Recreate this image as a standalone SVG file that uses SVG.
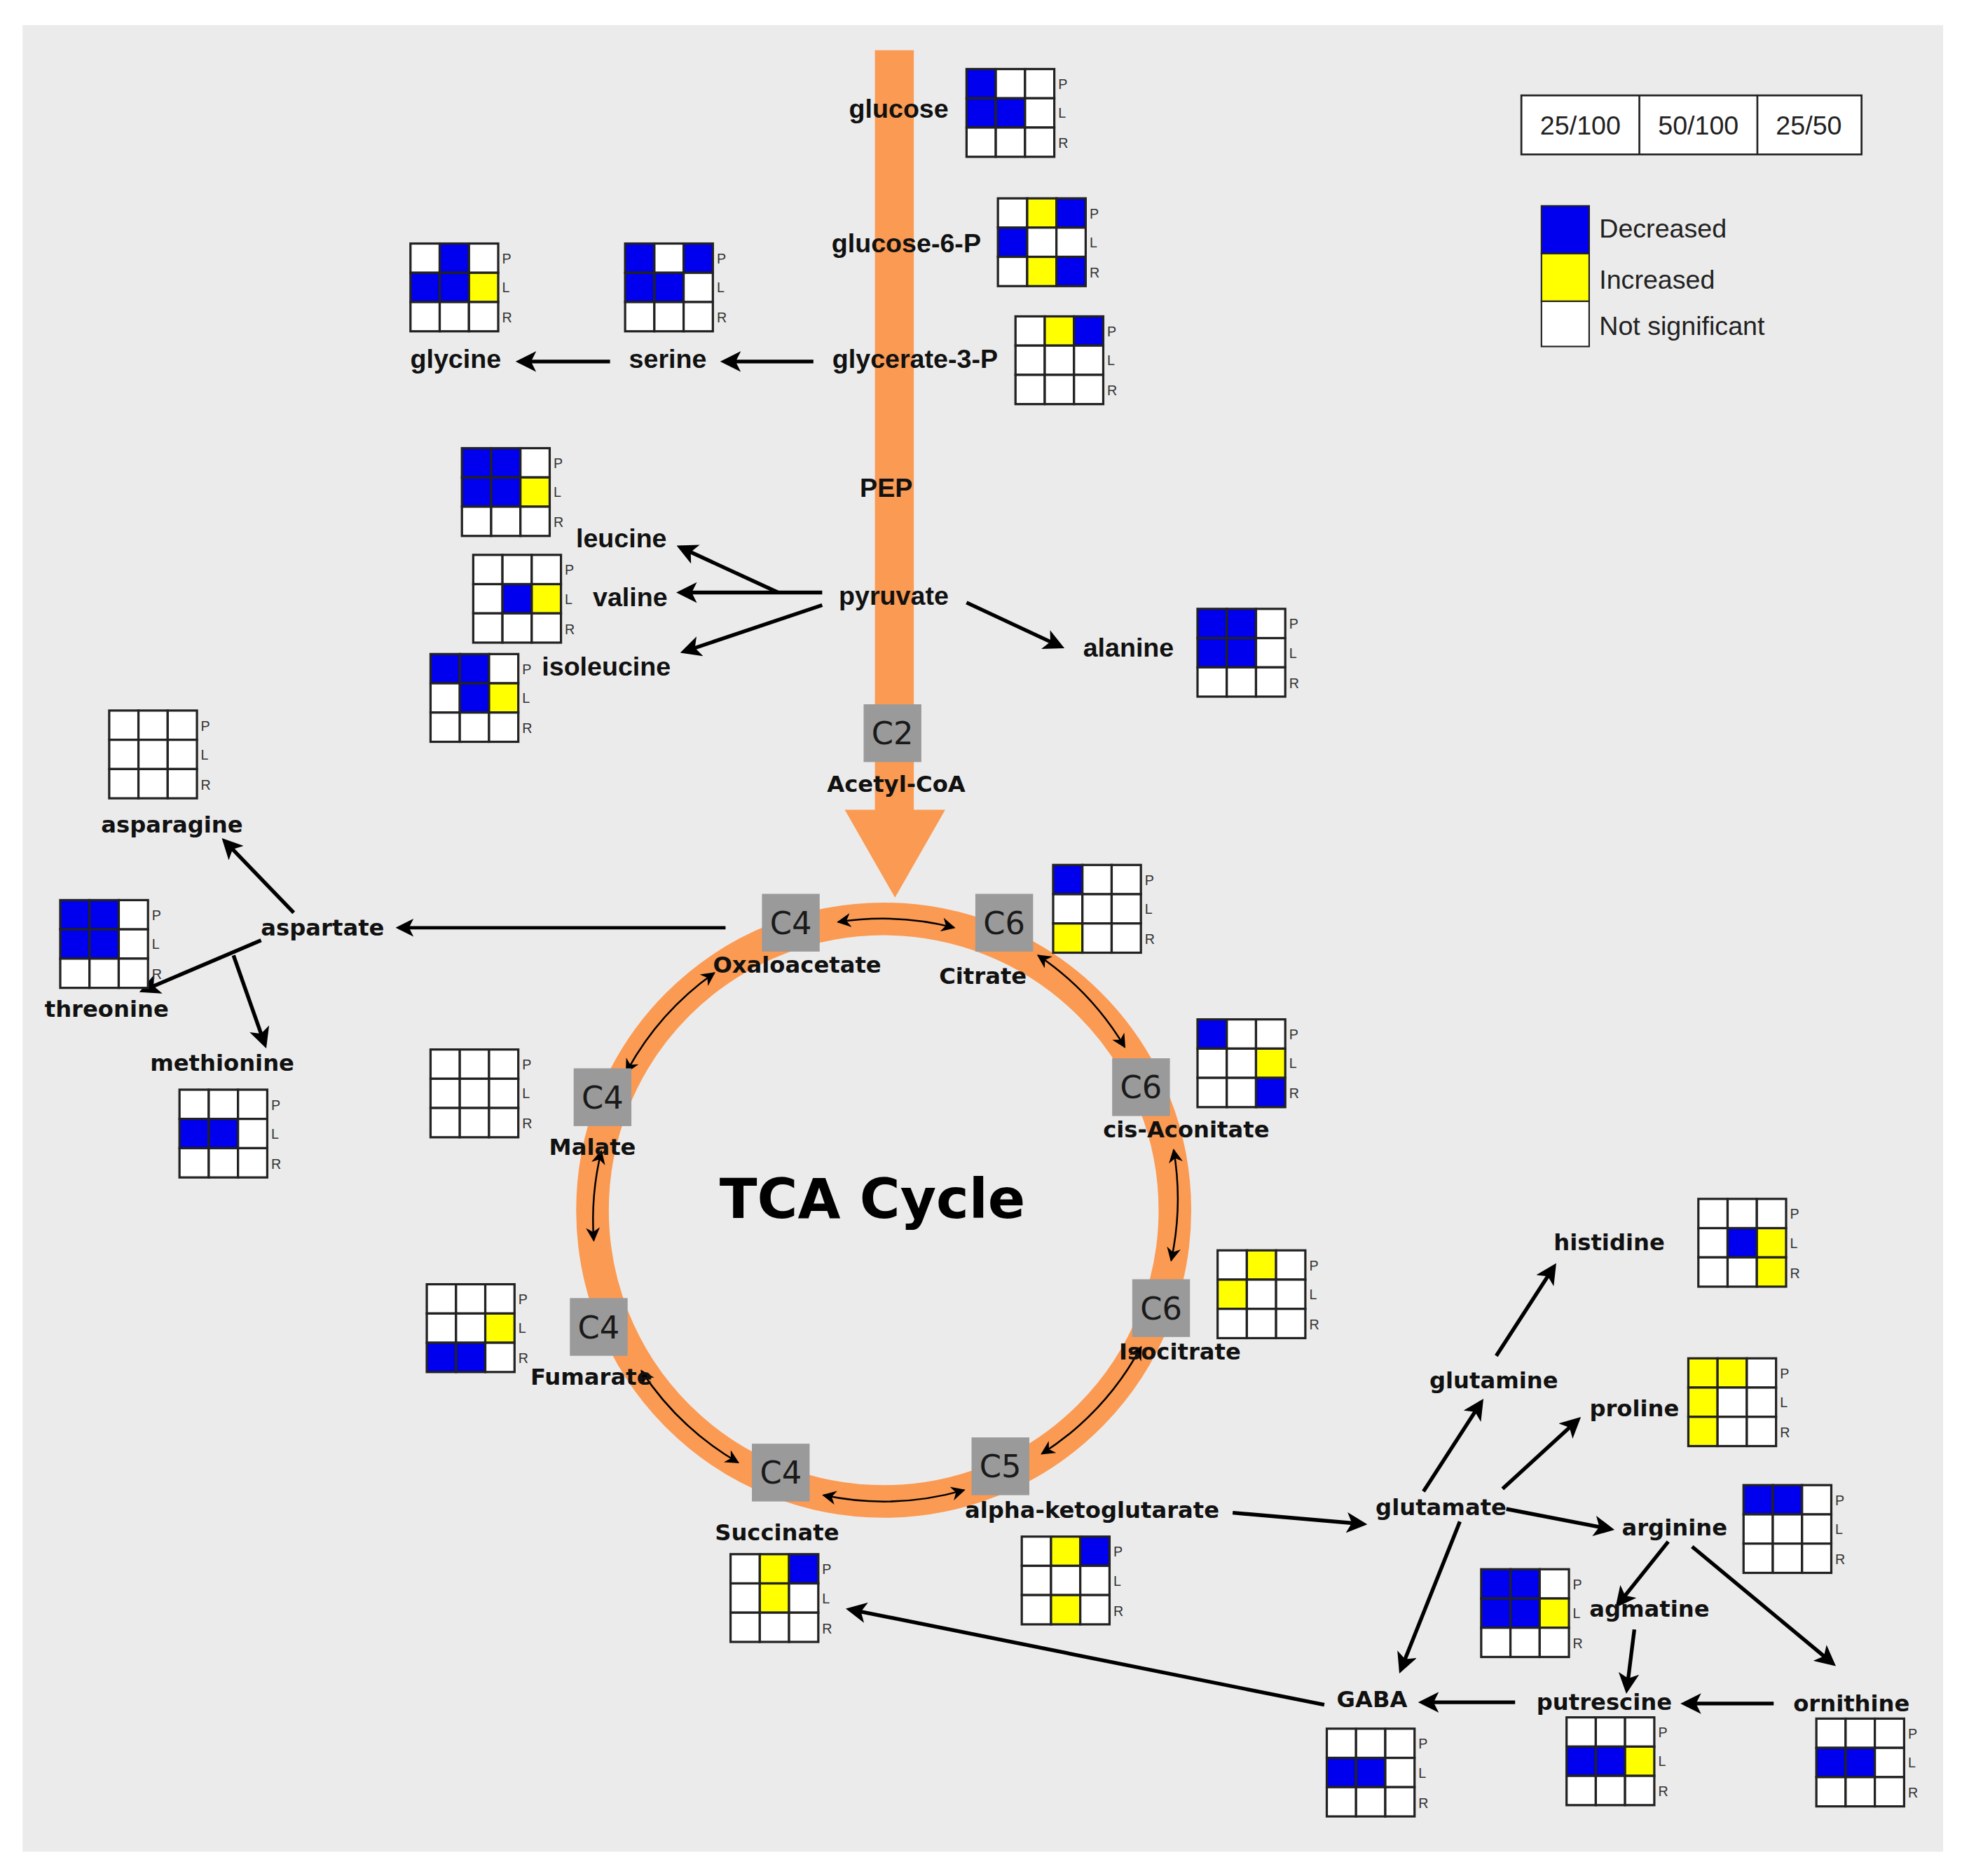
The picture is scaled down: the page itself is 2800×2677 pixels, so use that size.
<svg xmlns="http://www.w3.org/2000/svg" width="2800" height="2677" viewBox="0 0 2800 2677">
<defs>
<style>
.b{fill:#0000ee}.y{fill:#ffff00}.w{fill:#ffffff}
.g rect{stroke:#222;stroke-width:1.8}
.plr{font-family:"Liberation Sans",Arial,sans-serif;font-size:11px;fill:#333}
.lb{font-family:"Liberation Sans",Arial,sans-serif;font-weight:bold;font-size:21px;fill:#111;text-anchor:middle}
.ld{font-family:"DejaVu Sans",sans-serif;font-weight:bold;font-size:18px;fill:#111;text-anchor:middle}
.box rect{fill:#9a9a9a}
.box text{font-family:"DejaVu Sans",sans-serif;font-size:25px;fill:#1a1a1a;text-anchor:middle}
.c line,.c path.t{stroke:#000;stroke-width:3;fill:none;marker-end:url(#ah)}
.c path.s{stroke:#000;stroke-width:1.4;fill:none;marker-start:url(#sh);marker-end:url(#sh)}
.leg{font-family:"Liberation Sans",Arial,sans-serif;font-size:21px;fill:#222}
</style>
<marker id="ah" viewBox="0 0 10 10" refX="8" refY="5" markerWidth="5.5" markerHeight="5.5" orient="auto" markerUnits="strokeWidth"><path d="M0,0 L10,5 L0,10 L2.5,5 z" fill="#000"/></marker>
<marker id="sh" viewBox="0 0 10 10" refX="9" refY="5" markerWidth="8" markerHeight="8" orient="auto-start-reverse" markerUnits="strokeWidth"><path d="M0,0 L10,5 L0,10 L3,5 z" fill="#000"/></marker>
</defs>
<rect width="2800" height="2677" fill="#ffffff"/>
<g transform="scale(1.7914)">
<rect x="18" y="20" width="1530" height="1455" fill="#ebebeb"/>
<g id="glycolysis-flux">
<rect x="697" y="40" width="31" height="608" fill="#fb9a52"/>
<path d="M673,645 L753,645 L713,715 z" fill="#fb9a52"/>
</g>
<g id="tca-ring"><circle cx="704" cy="964" r="232" fill="none" stroke="#fb9a52" stroke-width="26"/>
<text x="695" y="970" style="font-family:'DejaVu Sans',sans-serif;font-weight:bold;font-size:44px;fill:#000;text-anchor:middle">TCA Cycle</text></g>

<g id="connectors" class="c">
<line x1="648" y1="288" x2="577" y2="288"/>
<line x1="486" y1="288" x2="414" y2="288"/>
<path class="t" d="M620,472 L542,436"/>
<line x1="655" y1="472" x2="542" y2="472"/>
<line x1="655" y1="482" x2="545" y2="519"/>
<line x1="770" y1="480" x2="845" y2="515"/>
<line x1="578" y1="739" x2="318" y2="739" style="stroke-width:2.6"/>
<line x1="234" y1="727" x2="179" y2="670"/>
<line x1="208" y1="749" x2="114" y2="789"/>
<line x1="186" y1="761" x2="211" y2="832"/>
<line x1="982" y1="1205" x2="1086" y2="1214"/>
<line x1="1134" y1="1188" x2="1180" y2="1117"/>
<line x1="1197" y1="1186" x2="1257" y2="1131"/>
<line x1="1200" y1="1202" x2="1283" y2="1218"/>
<line x1="1163" y1="1212" x2="1116" y2="1330"/>
<line x1="1192" y1="1080" x2="1238" y2="1009"/>
<line x1="1329" y1="1228" x2="1289" y2="1278"/>
<line x1="1348" y1="1232" x2="1460" y2="1325"/>
<line x1="1302" y1="1298" x2="1296" y2="1346"/>
<line x1="1413" y1="1357" x2="1342" y2="1357"/>
<line x1="1207" y1="1356" x2="1133" y2="1356"/>
<line x1="1055" y1="1358" x2="677" y2="1282"/>
<path class="s" d="M667.7,734.5 A232,232 0 0 1 760.1,738.9"/>
<path class="s" d="M827,761 A232,232 0 0 1 896,834"/>
<path class="s" d="M935,916 A232,232 0 0 1 933,1004"/>
<path class="s" d="M909,1073 A232,232 0 0 1 830,1158"/>
<path class="s" d="M768,1187 A232,232 0 0 1 656,1191"/>
<path class="s" d="M588,1165 A232,232 0 0 1 511,1092"/>
<path class="s" d="M473,988 A232,232 0 0 1 479,917"/>
<path class="s" d="M499,854 A232,232 0 0 1 569,775"/>
</g>

<g id="c2" class="box"><rect x="688" y="561" width="46" height="46"/><text x="711" y="593">C2</text></g>
<g id="c4-oxaloacetate" class="box"><rect x="607" y="712" width="46" height="46"/><text x="630" y="744">C4</text></g>
<g id="c6-citrate" class="box"><rect x="777" y="712" width="46" height="46"/><text x="800" y="744">C6</text></g>
<g id="c6-cisaconitate" class="box"><rect x="886" y="843" width="46" height="46"/><text x="909" y="875">C6</text></g>
<g id="c6-isocitrate" class="box"><rect x="902" y="1019" width="46" height="46"/><text x="925" y="1051">C6</text></g>
<g id="c5-akg" class="box"><rect x="774" y="1145" width="46" height="46"/><text x="797" y="1177">C5</text></g>
<g id="c4-succinate" class="box"><rect x="599" y="1150" width="46" height="46"/><text x="622" y="1182">C4</text></g>
<g id="c4-fumarate" class="box"><rect x="454" y="1034" width="46" height="46"/><text x="477" y="1066">C4</text></g>
<g id="c4-malate" class="box"><rect x="457" y="851" width="46" height="46"/><text x="480" y="883">C4</text></g>

<g id="labels">
<text class="lb" x="716" y="94">glucose</text>
<text class="lb" x="722" y="201">glucose-6-P</text>
<text class="lb" x="729" y="293">glycerate-3-P</text>
<text class="lb" x="363" y="293">glycine</text>
<text class="lb" x="532" y="293">serine</text>
<text class="lb" x="706" y="396">PEP</text>
<text class="lb" x="495" y="436">leucine</text>
<text class="lb" x="502" y="483">valine</text>
<text class="lb" x="712" y="482">pyruvate</text>
<text class="lb" x="483" y="538">isoleucine</text>
<text class="lb" x="899" y="523">alanine</text>
<text class="ld" x="714" y="631">Acetyl-CoA</text>
<text class="ld" x="635" y="775">Oxaloacetate</text>
<text class="ld" x="783" y="784">Citrate</text>
<text class="ld" x="945" y="906">cis-Aconitate</text>
<text class="ld" x="940" y="1083">Isocitrate</text>
<text class="ld" x="870" y="1209">alpha-ketoglutarate</text>
<text class="ld" x="619" y="1227">Succinate</text>
<text class="ld" x="471" y="1103">Fumarate</text>
<text class="ld" x="472" y="920">Malate</text>
<text class="ld" x="137" y="663">asparagine</text>
<text class="ld" x="257" y="745">aspartate</text>
<text class="ld" x="85" y="810">threonine</text>
<text class="ld" x="177" y="853">methionine</text>
<text class="ld" x="1282" y="996">histidine</text>
<text class="ld" x="1190" y="1106">glutamine</text>
<text class="ld" x="1302" y="1128">proline</text>
<text class="ld" x="1148" y="1207">glutamate</text>
<text class="ld" x="1334" y="1223">arginine</text>
<text class="ld" x="1314" y="1288">agmatine</text>
<text class="ld" x="1093" y="1360">GABA</text>
<text class="ld" x="1278" y="1362">putrescine</text>
<text class="ld" x="1475" y="1363">ornithine</text>
</g>

<g id="legend">
<rect x="1212" y="76" width="271" height="47" fill="#fff" stroke="#222" stroke-width="1.5"/>
<line x1="1306" y1="76" x2="1306" y2="123" stroke="#222" stroke-width="1.5"/>
<line x1="1400" y1="76" x2="1400" y2="123" stroke="#222" stroke-width="1.5"/>
<text class="leg" x="1259" y="107" text-anchor="middle">25/100</text>
<text class="leg" x="1353" y="107" text-anchor="middle">50/100</text>
<text class="leg" x="1441" y="107" text-anchor="middle">25/50</text>
<rect x="1228" y="164" width="38" height="38" class="b" stroke="#222" stroke-width="1.2"/>
<rect x="1228" y="202" width="38" height="38" class="y" stroke="#222" stroke-width="1.2"/>
<rect x="1228" y="240" width="38" height="36" class="w" stroke="#222" stroke-width="1.2"/>
<text class="leg" x="1274" y="189">Decreased</text>
<text class="leg" x="1274" y="230">Increased</text>
<text class="leg" x="1274" y="267">Not significant</text>
</g>

<!-- grids -->
<g id="grid-glucose" class="g" transform="translate(770,55)"><rect x="0" y="0" width="23.3" height="23.3" class="b"/><rect x="23.3" y="0" width="23.3" height="23.3" class="w"/><rect x="46.6" y="0" width="23.3" height="23.3" class="w"/><rect x="0" y="23.3" width="23.3" height="23.3" class="b"/><rect x="23.3" y="23.3" width="23.3" height="23.3" class="b"/><rect x="46.6" y="23.3" width="23.3" height="23.3" class="w"/><rect x="0" y="46.6" width="23.3" height="23.3" class="w"/><rect x="23.3" y="46.6" width="23.3" height="23.3" class="w"/><rect x="46.6" y="46.6" width="23.3" height="23.3" class="w"/><text class="plr" x="73" y="16">P</text><text class="plr" x="73" y="39">L</text><text class="plr" x="73" y="63">R</text></g>
<g id="grid-glucose6p" class="g" transform="translate(795,158)"><rect x="0" y="0" width="23.3" height="23.3" class="w"/><rect x="23.3" y="0" width="23.3" height="23.3" class="y"/><rect x="46.6" y="0" width="23.3" height="23.3" class="b"/><rect x="0" y="23.3" width="23.3" height="23.3" class="b"/><rect x="23.3" y="23.3" width="23.3" height="23.3" class="w"/><rect x="46.6" y="23.3" width="23.3" height="23.3" class="w"/><rect x="0" y="46.6" width="23.3" height="23.3" class="w"/><rect x="23.3" y="46.6" width="23.3" height="23.3" class="y"/><rect x="46.6" y="46.6" width="23.3" height="23.3" class="b"/><text class="plr" x="73" y="16">P</text><text class="plr" x="73" y="39">L</text><text class="plr" x="73" y="63">R</text></g>
<g id="grid-glycerate3p" class="g" transform="translate(809,252)"><rect x="0" y="0" width="23.3" height="23.3" class="w"/><rect x="23.3" y="0" width="23.3" height="23.3" class="y"/><rect x="46.6" y="0" width="23.3" height="23.3" class="b"/><rect x="0" y="23.3" width="23.3" height="23.3" class="w"/><rect x="23.3" y="23.3" width="23.3" height="23.3" class="w"/><rect x="46.6" y="23.3" width="23.3" height="23.3" class="w"/><rect x="0" y="46.6" width="23.3" height="23.3" class="w"/><rect x="23.3" y="46.6" width="23.3" height="23.3" class="w"/><rect x="46.6" y="46.6" width="23.3" height="23.3" class="w"/><text class="plr" x="73" y="16">P</text><text class="plr" x="73" y="39">L</text><text class="plr" x="73" y="63">R</text></g>
<g id="grid-glycine" class="g" transform="translate(327,194)"><rect x="0" y="0" width="23.3" height="23.3" class="w"/><rect x="23.3" y="0" width="23.3" height="23.3" class="b"/><rect x="46.6" y="0" width="23.3" height="23.3" class="w"/><rect x="0" y="23.3" width="23.3" height="23.3" class="b"/><rect x="23.3" y="23.3" width="23.3" height="23.3" class="b"/><rect x="46.6" y="23.3" width="23.3" height="23.3" class="y"/><rect x="0" y="46.6" width="23.3" height="23.3" class="w"/><rect x="23.3" y="46.6" width="23.3" height="23.3" class="w"/><rect x="46.6" y="46.6" width="23.3" height="23.3" class="w"/><text class="plr" x="73" y="16">P</text><text class="plr" x="73" y="39">L</text><text class="plr" x="73" y="63">R</text></g>
<g id="grid-serine" class="g" transform="translate(498,194)"><rect x="0" y="0" width="23.3" height="23.3" class="b"/><rect x="23.3" y="0" width="23.3" height="23.3" class="w"/><rect x="46.6" y="0" width="23.3" height="23.3" class="b"/><rect x="0" y="23.3" width="23.3" height="23.3" class="b"/><rect x="23.3" y="23.3" width="23.3" height="23.3" class="b"/><rect x="46.6" y="23.3" width="23.3" height="23.3" class="w"/><rect x="0" y="46.6" width="23.3" height="23.3" class="w"/><rect x="23.3" y="46.6" width="23.3" height="23.3" class="w"/><rect x="46.6" y="46.6" width="23.3" height="23.3" class="w"/><text class="plr" x="73" y="16">P</text><text class="plr" x="73" y="39">L</text><text class="plr" x="73" y="63">R</text></g>
<g id="grid-leucine" class="g" transform="translate(368,357)"><rect x="0" y="0" width="23.3" height="23.3" class="b"/><rect x="23.3" y="0" width="23.3" height="23.3" class="b"/><rect x="46.6" y="0" width="23.3" height="23.3" class="w"/><rect x="0" y="23.3" width="23.3" height="23.3" class="b"/><rect x="23.3" y="23.3" width="23.3" height="23.3" class="b"/><rect x="46.6" y="23.3" width="23.3" height="23.3" class="y"/><rect x="0" y="46.6" width="23.3" height="23.3" class="w"/><rect x="23.3" y="46.6" width="23.3" height="23.3" class="w"/><rect x="46.6" y="46.6" width="23.3" height="23.3" class="w"/><text class="plr" x="73" y="16">P</text><text class="plr" x="73" y="39">L</text><text class="plr" x="73" y="63">R</text></g>
<g id="grid-valine" class="g" transform="translate(377,442)"><rect x="0" y="0" width="23.3" height="23.3" class="w"/><rect x="23.3" y="0" width="23.3" height="23.3" class="w"/><rect x="46.6" y="0" width="23.3" height="23.3" class="w"/><rect x="0" y="23.3" width="23.3" height="23.3" class="w"/><rect x="23.3" y="23.3" width="23.3" height="23.3" class="b"/><rect x="46.6" y="23.3" width="23.3" height="23.3" class="y"/><rect x="0" y="46.6" width="23.3" height="23.3" class="w"/><rect x="23.3" y="46.6" width="23.3" height="23.3" class="w"/><rect x="46.6" y="46.6" width="23.3" height="23.3" class="w"/><text class="plr" x="73" y="16">P</text><text class="plr" x="73" y="39">L</text><text class="plr" x="73" y="63">R</text></g>
<g id="grid-isoleucine" class="g" transform="translate(343,521)"><rect x="0" y="0" width="23.3" height="23.3" class="b"/><rect x="23.3" y="0" width="23.3" height="23.3" class="b"/><rect x="46.6" y="0" width="23.3" height="23.3" class="w"/><rect x="0" y="23.3" width="23.3" height="23.3" class="w"/><rect x="23.3" y="23.3" width="23.3" height="23.3" class="b"/><rect x="46.6" y="23.3" width="23.3" height="23.3" class="y"/><rect x="0" y="46.6" width="23.3" height="23.3" class="w"/><rect x="23.3" y="46.6" width="23.3" height="23.3" class="w"/><rect x="46.6" y="46.6" width="23.3" height="23.3" class="w"/><text class="plr" x="73" y="16">P</text><text class="plr" x="73" y="39">L</text><text class="plr" x="73" y="63">R</text></g>
<g id="grid-alanine" class="g" transform="translate(954,485)"><rect x="0" y="0" width="23.3" height="23.3" class="b"/><rect x="23.3" y="0" width="23.3" height="23.3" class="b"/><rect x="46.6" y="0" width="23.3" height="23.3" class="w"/><rect x="0" y="23.3" width="23.3" height="23.3" class="b"/><rect x="23.3" y="23.3" width="23.3" height="23.3" class="b"/><rect x="46.6" y="23.3" width="23.3" height="23.3" class="w"/><rect x="0" y="46.6" width="23.3" height="23.3" class="w"/><rect x="23.3" y="46.6" width="23.3" height="23.3" class="w"/><rect x="46.6" y="46.6" width="23.3" height="23.3" class="w"/><text class="plr" x="73" y="16">P</text><text class="plr" x="73" y="39">L</text><text class="plr" x="73" y="63">R</text></g>
<g id="grid-asparagine" class="g" transform="translate(87,566)"><rect x="0" y="0" width="23.3" height="23.3" class="w"/><rect x="23.3" y="0" width="23.3" height="23.3" class="w"/><rect x="46.6" y="0" width="23.3" height="23.3" class="w"/><rect x="0" y="23.3" width="23.3" height="23.3" class="w"/><rect x="23.3" y="23.3" width="23.3" height="23.3" class="w"/><rect x="46.6" y="23.3" width="23.3" height="23.3" class="w"/><rect x="0" y="46.6" width="23.3" height="23.3" class="w"/><rect x="23.3" y="46.6" width="23.3" height="23.3" class="w"/><rect x="46.6" y="46.6" width="23.3" height="23.3" class="w"/><text class="plr" x="73" y="16">P</text><text class="plr" x="73" y="39">L</text><text class="plr" x="73" y="63">R</text></g>
<g id="grid-threonine" class="g" transform="translate(48,717)"><rect x="0" y="0" width="23.3" height="23.3" class="b"/><rect x="23.3" y="0" width="23.3" height="23.3" class="b"/><rect x="46.6" y="0" width="23.3" height="23.3" class="w"/><rect x="0" y="23.3" width="23.3" height="23.3" class="b"/><rect x="23.3" y="23.3" width="23.3" height="23.3" class="b"/><rect x="46.6" y="23.3" width="23.3" height="23.3" class="w"/><rect x="0" y="46.6" width="23.3" height="23.3" class="w"/><rect x="23.3" y="46.6" width="23.3" height="23.3" class="w"/><rect x="46.6" y="46.6" width="23.3" height="23.3" class="w"/><text class="plr" x="73" y="16">P</text><text class="plr" x="73" y="39">L</text><text class="plr" x="73" y="63">R</text></g>
<g id="grid-methionine" class="g" transform="translate(143,868)"><rect x="0" y="0" width="23.3" height="23.3" class="w"/><rect x="23.3" y="0" width="23.3" height="23.3" class="w"/><rect x="46.6" y="0" width="23.3" height="23.3" class="w"/><rect x="0" y="23.3" width="23.3" height="23.3" class="b"/><rect x="23.3" y="23.3" width="23.3" height="23.3" class="b"/><rect x="46.6" y="23.3" width="23.3" height="23.3" class="w"/><rect x="0" y="46.6" width="23.3" height="23.3" class="w"/><rect x="23.3" y="46.6" width="23.3" height="23.3" class="w"/><rect x="46.6" y="46.6" width="23.3" height="23.3" class="w"/><text class="plr" x="73" y="16">P</text><text class="plr" x="73" y="39">L</text><text class="plr" x="73" y="63">R</text></g>
<g id="grid-citrate" class="g" transform="translate(839,689)"><rect x="0" y="0" width="23.3" height="23.3" class="b"/><rect x="23.3" y="0" width="23.3" height="23.3" class="w"/><rect x="46.6" y="0" width="23.3" height="23.3" class="w"/><rect x="0" y="23.3" width="23.3" height="23.3" class="w"/><rect x="23.3" y="23.3" width="23.3" height="23.3" class="w"/><rect x="46.6" y="23.3" width="23.3" height="23.3" class="w"/><rect x="0" y="46.6" width="23.3" height="23.3" class="y"/><rect x="23.3" y="46.6" width="23.3" height="23.3" class="w"/><rect x="46.6" y="46.6" width="23.3" height="23.3" class="w"/><text class="plr" x="73" y="16">P</text><text class="plr" x="73" y="39">L</text><text class="plr" x="73" y="63">R</text></g>
<g id="grid-cisaconitate" class="g" transform="translate(954,812)"><rect x="0" y="0" width="23.3" height="23.3" class="b"/><rect x="23.3" y="0" width="23.3" height="23.3" class="w"/><rect x="46.6" y="0" width="23.3" height="23.3" class="w"/><rect x="0" y="23.3" width="23.3" height="23.3" class="w"/><rect x="23.3" y="23.3" width="23.3" height="23.3" class="w"/><rect x="46.6" y="23.3" width="23.3" height="23.3" class="y"/><rect x="0" y="46.6" width="23.3" height="23.3" class="w"/><rect x="23.3" y="46.6" width="23.3" height="23.3" class="w"/><rect x="46.6" y="46.6" width="23.3" height="23.3" class="b"/><text class="plr" x="73" y="16">P</text><text class="plr" x="73" y="39">L</text><text class="plr" x="73" y="63">R</text></g>
<g id="grid-malate" class="g" transform="translate(343,836)"><rect x="0" y="0" width="23.3" height="23.3" class="w"/><rect x="23.3" y="0" width="23.3" height="23.3" class="w"/><rect x="46.6" y="0" width="23.3" height="23.3" class="w"/><rect x="0" y="23.3" width="23.3" height="23.3" class="w"/><rect x="23.3" y="23.3" width="23.3" height="23.3" class="w"/><rect x="46.6" y="23.3" width="23.3" height="23.3" class="w"/><rect x="0" y="46.6" width="23.3" height="23.3" class="w"/><rect x="23.3" y="46.6" width="23.3" height="23.3" class="w"/><rect x="46.6" y="46.6" width="23.3" height="23.3" class="w"/><text class="plr" x="73" y="16">P</text><text class="plr" x="73" y="39">L</text><text class="plr" x="73" y="63">R</text></g>
<g id="grid-isocitrate" class="g" transform="translate(970,996)"><rect x="0" y="0" width="23.3" height="23.3" class="w"/><rect x="23.3" y="0" width="23.3" height="23.3" class="y"/><rect x="46.6" y="0" width="23.3" height="23.3" class="w"/><rect x="0" y="23.3" width="23.3" height="23.3" class="y"/><rect x="23.3" y="23.3" width="23.3" height="23.3" class="w"/><rect x="46.6" y="23.3" width="23.3" height="23.3" class="w"/><rect x="0" y="46.6" width="23.3" height="23.3" class="w"/><rect x="23.3" y="46.6" width="23.3" height="23.3" class="w"/><rect x="46.6" y="46.6" width="23.3" height="23.3" class="w"/><text class="plr" x="73" y="16">P</text><text class="plr" x="73" y="39">L</text><text class="plr" x="73" y="63">R</text></g>
<g id="grid-fumarate" class="g" transform="translate(340,1023)"><rect x="0" y="0" width="23.3" height="23.3" class="w"/><rect x="23.3" y="0" width="23.3" height="23.3" class="w"/><rect x="46.6" y="0" width="23.3" height="23.3" class="w"/><rect x="0" y="23.3" width="23.3" height="23.3" class="w"/><rect x="23.3" y="23.3" width="23.3" height="23.3" class="w"/><rect x="46.6" y="23.3" width="23.3" height="23.3" class="y"/><rect x="0" y="46.6" width="23.3" height="23.3" class="b"/><rect x="23.3" y="46.6" width="23.3" height="23.3" class="b"/><rect x="46.6" y="46.6" width="23.3" height="23.3" class="w"/><text class="plr" x="73" y="16">P</text><text class="plr" x="73" y="39">L</text><text class="plr" x="73" y="63">R</text></g>
<g id="grid-succinate" class="g" transform="translate(582,1238)"><rect x="0" y="0" width="23.3" height="23.3" class="w"/><rect x="23.3" y="0" width="23.3" height="23.3" class="y"/><rect x="46.6" y="0" width="23.3" height="23.3" class="b"/><rect x="0" y="23.3" width="23.3" height="23.3" class="w"/><rect x="23.3" y="23.3" width="23.3" height="23.3" class="y"/><rect x="46.6" y="23.3" width="23.3" height="23.3" class="w"/><rect x="0" y="46.6" width="23.3" height="23.3" class="w"/><rect x="23.3" y="46.6" width="23.3" height="23.3" class="w"/><rect x="46.6" y="46.6" width="23.3" height="23.3" class="w"/><text class="plr" x="73" y="16">P</text><text class="plr" x="73" y="39">L</text><text class="plr" x="73" y="63">R</text></g>
<g id="grid-akg" class="g" transform="translate(814,1224)"><rect x="0" y="0" width="23.3" height="23.3" class="w"/><rect x="23.3" y="0" width="23.3" height="23.3" class="y"/><rect x="46.6" y="0" width="23.3" height="23.3" class="b"/><rect x="0" y="23.3" width="23.3" height="23.3" class="w"/><rect x="23.3" y="23.3" width="23.3" height="23.3" class="w"/><rect x="46.6" y="23.3" width="23.3" height="23.3" class="w"/><rect x="0" y="46.6" width="23.3" height="23.3" class="w"/><rect x="23.3" y="46.6" width="23.3" height="23.3" class="y"/><rect x="46.6" y="46.6" width="23.3" height="23.3" class="w"/><text class="plr" x="73" y="16">P</text><text class="plr" x="73" y="39">L</text><text class="plr" x="73" y="63">R</text></g>
<g id="grid-histidine" class="g" transform="translate(1353,955)"><rect x="0" y="0" width="23.3" height="23.3" class="w"/><rect x="23.3" y="0" width="23.3" height="23.3" class="w"/><rect x="46.6" y="0" width="23.3" height="23.3" class="w"/><rect x="0" y="23.3" width="23.3" height="23.3" class="w"/><rect x="23.3" y="23.3" width="23.3" height="23.3" class="b"/><rect x="46.6" y="23.3" width="23.3" height="23.3" class="y"/><rect x="0" y="46.6" width="23.3" height="23.3" class="w"/><rect x="23.3" y="46.6" width="23.3" height="23.3" class="w"/><rect x="46.6" y="46.6" width="23.3" height="23.3" class="y"/><text class="plr" x="73" y="16">P</text><text class="plr" x="73" y="39">L</text><text class="plr" x="73" y="63">R</text></g>
<g id="grid-proline" class="g" transform="translate(1345,1082)"><rect x="0" y="0" width="23.3" height="23.3" class="y"/><rect x="23.3" y="0" width="23.3" height="23.3" class="y"/><rect x="46.6" y="0" width="23.3" height="23.3" class="w"/><rect x="0" y="23.3" width="23.3" height="23.3" class="y"/><rect x="23.3" y="23.3" width="23.3" height="23.3" class="w"/><rect x="46.6" y="23.3" width="23.3" height="23.3" class="w"/><rect x="0" y="46.6" width="23.3" height="23.3" class="y"/><rect x="23.3" y="46.6" width="23.3" height="23.3" class="w"/><rect x="46.6" y="46.6" width="23.3" height="23.3" class="w"/><text class="plr" x="73" y="16">P</text><text class="plr" x="73" y="39">L</text><text class="plr" x="73" y="63">R</text></g>
<g id="grid-arginine" class="g" transform="translate(1389,1183)"><rect x="0" y="0" width="23.3" height="23.3" class="b"/><rect x="23.3" y="0" width="23.3" height="23.3" class="b"/><rect x="46.6" y="0" width="23.3" height="23.3" class="w"/><rect x="0" y="23.3" width="23.3" height="23.3" class="w"/><rect x="23.3" y="23.3" width="23.3" height="23.3" class="w"/><rect x="46.6" y="23.3" width="23.3" height="23.3" class="w"/><rect x="0" y="46.6" width="23.3" height="23.3" class="w"/><rect x="23.3" y="46.6" width="23.3" height="23.3" class="w"/><rect x="46.6" y="46.6" width="23.3" height="23.3" class="w"/><text class="plr" x="73" y="16">P</text><text class="plr" x="73" y="39">L</text><text class="plr" x="73" y="63">R</text></g>
<g id="grid-agmatine" class="g" transform="translate(1180,1250)"><rect x="0" y="0" width="23.3" height="23.3" class="b"/><rect x="23.3" y="0" width="23.3" height="23.3" class="b"/><rect x="46.6" y="0" width="23.3" height="23.3" class="w"/><rect x="0" y="23.3" width="23.3" height="23.3" class="b"/><rect x="23.3" y="23.3" width="23.3" height="23.3" class="b"/><rect x="46.6" y="23.3" width="23.3" height="23.3" class="y"/><rect x="0" y="46.6" width="23.3" height="23.3" class="w"/><rect x="23.3" y="46.6" width="23.3" height="23.3" class="w"/><rect x="46.6" y="46.6" width="23.3" height="23.3" class="w"/><text class="plr" x="73" y="16">P</text><text class="plr" x="73" y="39">L</text><text class="plr" x="73" y="63">R</text></g>
<g id="grid-gaba" class="g" transform="translate(1057,1377)"><rect x="0" y="0" width="23.3" height="23.3" class="w"/><rect x="23.3" y="0" width="23.3" height="23.3" class="w"/><rect x="46.6" y="0" width="23.3" height="23.3" class="w"/><rect x="0" y="23.3" width="23.3" height="23.3" class="b"/><rect x="23.3" y="23.3" width="23.3" height="23.3" class="b"/><rect x="46.6" y="23.3" width="23.3" height="23.3" class="w"/><rect x="0" y="46.6" width="23.3" height="23.3" class="w"/><rect x="23.3" y="46.6" width="23.3" height="23.3" class="w"/><rect x="46.6" y="46.6" width="23.3" height="23.3" class="w"/><text class="plr" x="73" y="16">P</text><text class="plr" x="73" y="39">L</text><text class="plr" x="73" y="63">R</text></g>
<g id="grid-putrescine" class="g" transform="translate(1248,1368)"><rect x="0" y="0" width="23.3" height="23.3" class="w"/><rect x="23.3" y="0" width="23.3" height="23.3" class="w"/><rect x="46.6" y="0" width="23.3" height="23.3" class="w"/><rect x="0" y="23.3" width="23.3" height="23.3" class="b"/><rect x="23.3" y="23.3" width="23.3" height="23.3" class="b"/><rect x="46.6" y="23.3" width="23.3" height="23.3" class="y"/><rect x="0" y="46.6" width="23.3" height="23.3" class="w"/><rect x="23.3" y="46.6" width="23.3" height="23.3" class="w"/><rect x="46.6" y="46.6" width="23.3" height="23.3" class="w"/><text class="plr" x="73" y="16">P</text><text class="plr" x="73" y="39">L</text><text class="plr" x="73" y="63">R</text></g>
<g id="grid-ornithine" class="g" transform="translate(1447,1369)"><rect x="0" y="0" width="23.3" height="23.3" class="w"/><rect x="23.3" y="0" width="23.3" height="23.3" class="w"/><rect x="46.6" y="0" width="23.3" height="23.3" class="w"/><rect x="0" y="23.3" width="23.3" height="23.3" class="b"/><rect x="23.3" y="23.3" width="23.3" height="23.3" class="b"/><rect x="46.6" y="23.3" width="23.3" height="23.3" class="w"/><rect x="0" y="46.6" width="23.3" height="23.3" class="w"/><rect x="23.3" y="46.6" width="23.3" height="23.3" class="w"/><rect x="46.6" y="46.6" width="23.3" height="23.3" class="w"/><text class="plr" x="73" y="16">P</text><text class="plr" x="73" y="39">L</text><text class="plr" x="73" y="63">R</text></g>
</g>
</svg>
